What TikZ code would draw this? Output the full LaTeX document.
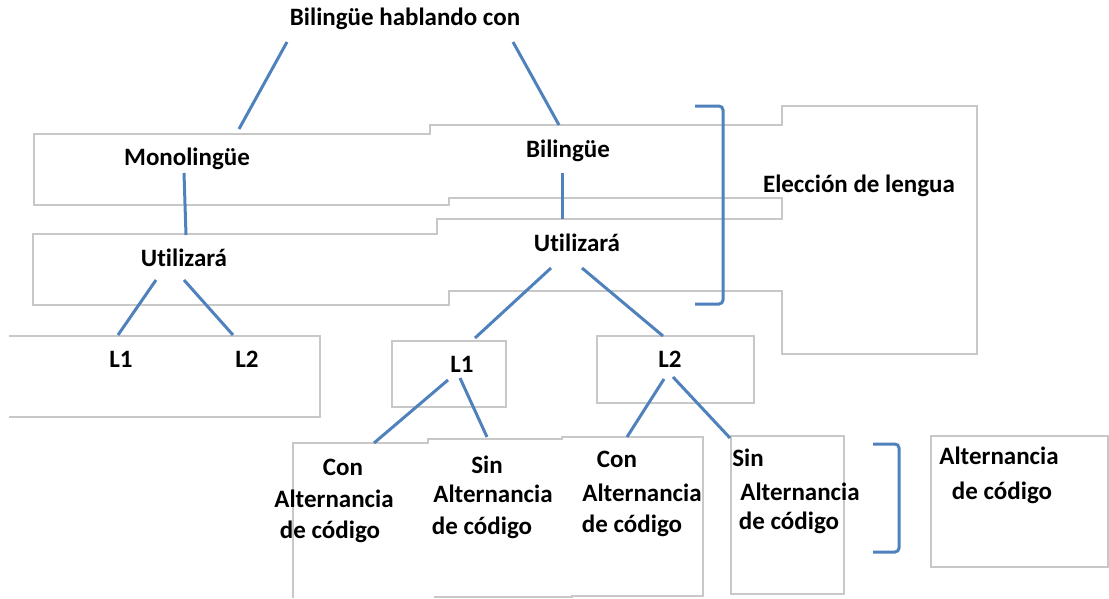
\documentclass[tikz,border=0pt]{standalone}
\usepackage{fontspec}
\setmainfont{Carlito}[Ligatures={NoCommon}]
\definecolor{boxgray}{RGB}{200,200,200}
\definecolor{linkblue}{RGB}{79,129,189}
\begin{document}
\begin{tikzpicture}[x=1pt,y=-1pt,
  boxline/.style={draw=boxgray, line width=1.2pt},
  conn/.style={draw=linkblue, line width=3pt},
  brk/.style={draw=linkblue, line width=3pt, rounded corners=4pt},
  txt/.style={font=\fontsize{25}{30}\selectfont\bfseries, inner sep=0pt, anchor=base}]
\useasboundingbox (0,0) rectangle (1109,598);
% grey text-box outlines
\draw[boxline] (34,205) -- (34,134) -- (430,134) -- (430,125) -- (782,125) -- (782,106)
  -- (977,106) -- (977,354) -- (782,354) -- (782,291) -- (449,291) -- (449,305)
  -- (33,305) -- (33,234) -- (437,234) -- (437,219) -- (782,219) -- (782,198)
  -- (449,198) -- (449,205) -- cycle;
\draw[boxline] (9,336) -- (320,336) -- (320,417) -- (9,417);
\draw[boxline] (392,341) rectangle (506,407);
\draw[boxline] (597,336) rectangle (754,403);
\draw[boxline] (293,598) -- (293,443) -- (428,443) -- (428,439) -- (562,439) -- (562,437)
  -- (703,437) -- (703,596) -- (572,596) -- (572,597) -- (434,597);
\draw[boxline] (731,436) rectangle (844,594);
\draw[boxline] (1108,436) -- (931,436) -- (931,567) -- (1108,567) -- cycle;
% texts
\node[txt] (top) at (405,25) {Bilingüe hablando con};
\node[txt] (mono) at (187,165) {Monolingüe};
\node[txt] (utilL) at (184,266) {Utilizará};
\node[txt] (L1a) at (121,367) {L1};
\node[txt] (L2a) at (247,367) {L2};
\node[txt] (bil) at (568,157) {Bilingüe};
\node[txt] (utilR) at (577,251) {Utilizará};
\node[txt] (elec) at (859,192) {Elección de lengua};
\node[txt] (L1b) at (462,372) {L1};
\node[txt] (L2b) at (670,367) {L2};
\node[txt] (con1a) at (343,475) {Con};
\node[txt] (con1b) at (334,507) {Alternancia};
\node[txt] (con1c) at (330,538) {de código};
\node[txt] (sin1a) at (487,473) {Sin};
\node[txt] (sin1b) at (493,502) {Alternancia};
\node[txt] (sin1c) at (482,534) {de código};
\node[txt] (con2a) at (617,467) {Con};
\node[txt] (con2b) at (642,501) {Alternancia};
\node[txt] (con2c) at (632,532) {de código};
\node[txt] (sin2a) at (748,466) {Sin};
\node[txt] (sin2b) at (800,500) {Alternancia};
\node[txt] (sin2c) at (789,529) {de código};
\node[txt] (alta) at (999,464) {Alternancia};
\node[txt] (altb) at (1002,499) {de código};
% connector end points
\coordinate (topL) at (287,42);   \coordinate (monoT) at (239,129);
\coordinate (topR) at (513,42);   \coordinate (bilT) at (559,125);
\coordinate (monoB) at (184,173); \coordinate (utilLT) at (186,235);
\coordinate (utilLB1) at (156,280); \coordinate (L1aT) at (118,335);
\coordinate (utilLB2) at (184,280); \coordinate (L2aT) at (233,335);
\coordinate (bilB) at (562,173);  \coordinate (utilRT) at (562,219);
\coordinate (utilRB1) at (551,268); \coordinate (L1bT) at (475,338);
\coordinate (utilRB2) at (582,268); \coordinate (L2bT) at (663,336);
\coordinate (L1bB1) at (448,380); \coordinate (con1T) at (374,443);
\coordinate (L1bB2) at (460,378); \coordinate (sin1T) at (487,437);
\coordinate (L2bB1) at (664,379); \coordinate (con2T) at (627,437);
\coordinate (L2bB2) at (673,377); \coordinate (sin2T) at (730,438);
% connectors
\draw[conn] (topL) -- (monoT);
\draw[conn] (topR) -- (bilT);
\draw[conn] (monoB) -- (utilLT);
\draw[conn] (utilLB1) -- (L1aT);
\draw[conn] (utilLB2) -- (L2aT);
\draw[conn] (bilB) -- (utilRT);
\draw[conn] (utilRB1) -- (L1bT);
\draw[conn] (utilRB2) -- (L2bT);
\draw[conn] (L1bB1) -- (con1T);
\draw[conn] (L1bB2) -- (sin1T);
\draw[conn] (L2bB1) -- (con2T);
\draw[conn] (L2bB2) -- (sin2T);
% brackets
\draw[brk] (695,106) -- (723,106) -- (723,304) -- (695,304);
\draw[brk] (873,444) -- (899,444) -- (899,552) -- (873,552);
\end{tikzpicture}
\end{document}
